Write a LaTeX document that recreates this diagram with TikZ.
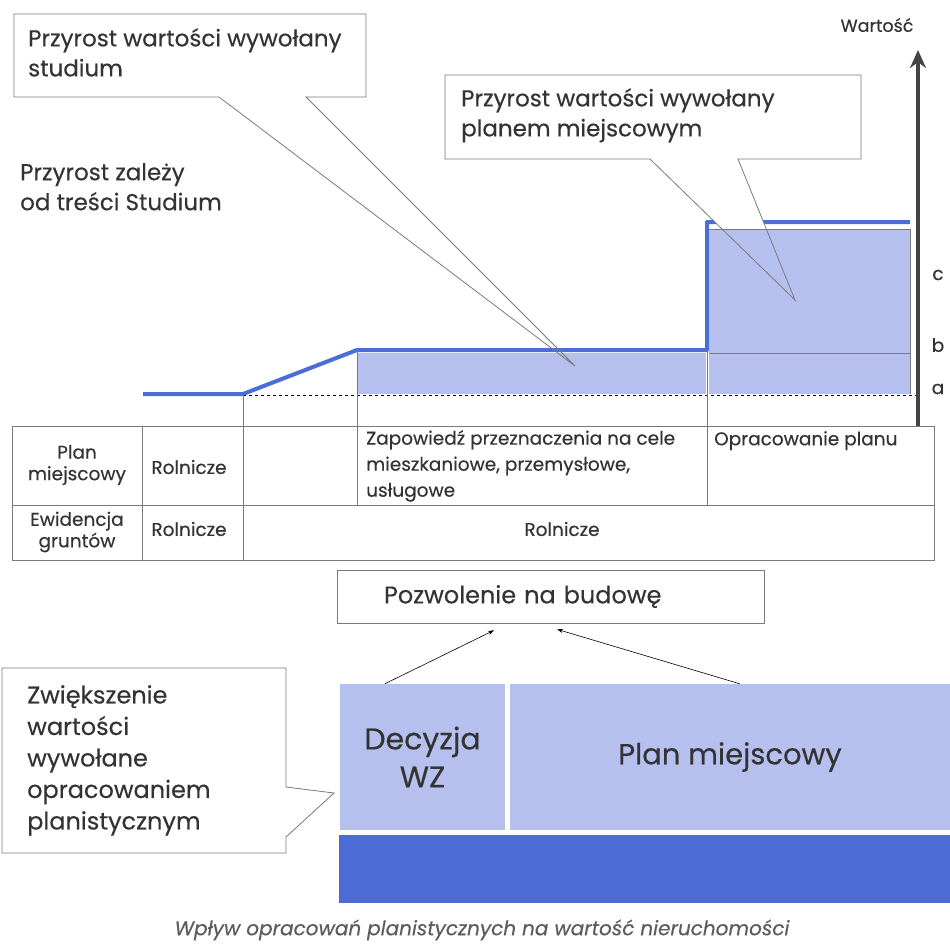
\documentclass[tikz,border=0pt]{standalone}
\usepackage{fontspec}
\setmainfont{Poppins}[FakeBold=0.35]
\usetikzlibrary{arrows.meta, positioning}
\definecolor{valline}{HTML}{4A6DD6}
\definecolor{valfill}{HTML}{B6C0EF}
\definecolor{planbar}{HTML}{4C6BD4}
\definecolor{rulegray}{HTML}{7A7A7A}
\definecolor{axisgray}{HTML}{444444}
\definecolor{inkgray}{HTML}{333333}
\tikzstyle{callout}=[draw=rulegray, line width=0.8]
\tikzstyle{bubbletext}=[inner sep=0pt, text=inkgray, align=left, font=\fontsize{23}{30}\selectfont]
\tikzstyle{celltext}=[inner sep=0pt, text=inkgray, align=center, font=\fontsize{18.5}{21.5}\selectfont]
\tikzstyle{block}=[fill=valfill, inner sep=0pt, text=inkgray, align=center, font=\fontsize{30}{38}\selectfont]

\begin{document}
\begin{tikzpicture}[x=1pt, y=-1pt, line cap=butt]
  \useasboundingbox (0,0) rectangle (950,943);
  % value curve
  \draw[valline, line width=4, line join=round] (143,394) -- (243,394) -- (357,350) -- (707,350) -- (707,222) -- (910,222);
  \fill[white] (445,75) -- (861,75) -- (861,159) -- (738,159) -- (795,300) -- (650,159) -- (445,159) -- cycle;
  \fill[valfill] (358,353) rectangle (706,394);
  \fill[valfill] (709,229) rectangle (910,394);
  \draw[rulegray, line width=0.6] (709,229) -- (910,229) -- (910,394);
  \draw[rulegray, line width=0.6] (709,353) -- (910,353);
  \draw[dashed, line width=0.7] (243,395) -- (916,395);
  \draw[rulegray, line width=0.6] (357,348) -- (357,505);
  \draw[rulegray, line width=0.6] (707,352) -- (707,505);
  \draw[rulegray, line width=0.6] (243,394) -- (243,560);

  % axis
  \draw[axisgray, line width=4.5, -{Stealth[length=18pt,width=16pt]}] (918,426) -- (918,50);
  \node[celltext, font=\fontsize{17.5}{20}\selectfont] (axis) at (877,25) {Wartość};
  \node[celltext] (lc) at (938,275) {c};
  \node[celltext] (lb) at (938,345) {b};
  \node[celltext] (la) at (938,389) {a};

  % callouts
  \draw[callout] (14,14) -- (366,14) -- (366,97) -- (306,97) -- (575,366) -- (219,97) -- (14,97) -- cycle;
  \node[bubbletext, anchor=north west] (studium) at (28,28) {Przyrost wartości wywołany\\studium};
  \draw[callout] (445,75) -- (861,75) -- (861,159) -- (738,159) -- (795,300) -- (650,159) -- (445,159) -- cycle;
  \node[bubbletext, anchor=north west] (mpzp) at (461,88) {Przyrost wartości wywołany\\planem miejscowym};
  \node[bubbletext, anchor=north west] (tresc) at (20,163) {Przyrost zależy\\od treści Studium};

  % table
  \draw[rulegray, line width=0.6] (12,426) rectangle (934,560);
  \draw[rulegray, line width=0.6] (12,505) -- (934,505);
  \draw[rulegray, line width=0.6] (142,426) -- (142,560);
  \node[celltext] (plan) at (77,465) {Plan\\miejscowy};
  \node[celltext] (ewid) at (77,532) {Ewidencja\\gruntów};
  \node[celltext] (rol1) at (189,467) {Rolnicze};
  \node[celltext] (rol2) at (189,529) {Rolnicze};
  \node[celltext] (rol3) at (562,529) {Rolnicze};
  \node[celltext, font=\fontsize{18.5}{26}\selectfont, align=left, anchor=north west] (zapow) at (366,430) {Zapowiedź przeznaczenia na cele\\mieszkaniowe, przemysłowe,\\usługowe};
  \node[celltext, anchor=north west] (oprac) at (714,431) {Opracowanie planu};

  % permit and planning documents
  \node[draw=rulegray, line width=0.6, inner xsep=47pt, text width=333pt, minimum height=53pt, align=left, text=inkgray, font=\fontsize{24}{26}\selectfont] (permit) at (550.5,596.5) {Pozwolenie na budowę};
  \node[block, minimum width=165pt, minimum height=146pt] (wz) at (422.5,757) {Decyzja\\WZ};
  \node[block, minimum width=440pt, minimum height=146pt, font=\fontsize{29}{38}\selectfont] (mp) at (730,757) {Plan miejscowy};
  \fill[planbar] (339,835) rectangle (950,903);
  \draw[line width=0.6, -{Stealth[length=6pt,width=4pt]}] ([xshift=45pt]wz.north west) -- ([xshift=-56.5pt,yshift=-7pt]permit.south);
  \draw[line width=0.6, -{Stealth[length=6pt,width=4pt]}] ([xshift=230pt]mp.north west) -- ([xshift=6.5pt,yshift=-6pt]permit.south);

  \draw[callout] (2,668) -- (286,668) -- (286,787) -- (334,793) -- (286,837) -- (286,853) -- (2,853) -- cycle;
  \node[bubbletext, font=\fontsize{24}{31.5}\selectfont, anchor=north west] (zwiek) at (27,685) {Zwiększenie\\wartości\\wywołane\\opracowaniem\\planistycznym};

  % caption
  \node[text=inkgray!80, font=\fontsize{20}{22}\selectfont\itshape] (caption) at (482,930) {Wpływ opracowań planistycznych na wartość nieruchomości};
\end{tikzpicture}
\end{document}
